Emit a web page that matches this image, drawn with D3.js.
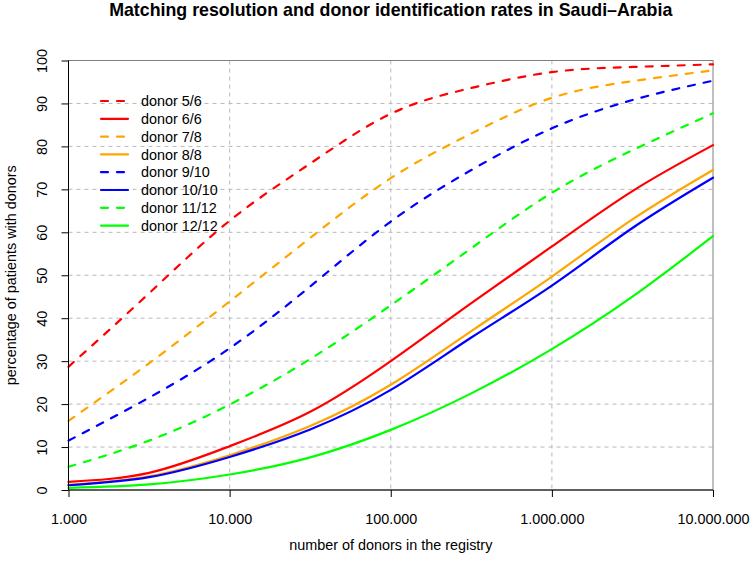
<!DOCTYPE html>
<html>
<head>
<meta charset="utf-8">
<script src="https://cdn.jsdelivr.net/npm/d3@7"></script>
<style>
  body { margin: 0; background: #fff; }
  svg text { font-family: "Liberation Sans", Arial, Helvetica, sans-serif; fill: #000; }
</style>
</head>
<body>
<svg id="chart"></svg>
<script>

var width = 750;
var height = 562;

// registry sizes (x) and identification rates (%)
var registrySizes = [1e3, 3.162e3, 1e4, 3.162e4, 1e5, 3.162e5, 1e6, 3.162e6, 1e7];

var donor56   = [28.7, 45.8, 62.7, 76.0, 87.6, 93.6, 97.3, 98.5, 99.1];
var donor66   = [1.9, 4.0, 10.2, 18.2, 30.0, 43.5, 56.7, 69.6, 80.3];
var donor78   = [16.1, 29.5, 43.9, 58.7, 72.6, 83.0, 91.3, 95.2, 97.7];
var donor88   = [1.2, 3.2, 8.1, 14.9, 24.5, 37.0, 49.7, 63.0, 74.5];
var donor910  = [11.5, 21.5, 33.0, 47.4, 62.5, 74.5, 84.2, 90.8, 95.3];
var donor1010 = [1.1, 3.0, 7.7, 14.1, 23.3, 35.5, 47.6, 61.0, 72.7];
var donor1112 = [5.4, 11.5, 19.9, 30.5, 43.0, 56.3, 69.2, 79.1, 87.7];
var donor1212 = [0.5, 1.3, 3.6, 7.6, 14.0, 22.5, 32.8, 45.0, 59.1];

var seriesNames = ["donor 5/6", "donor 6/6", "donor 7/8", "donor 8/8",
                   "donor 9/10", "donor 10/10", "donor 11/12", "donor 12/12"];
var seriesColors = ["#ff0000", "#ff0000", "#ffa500", "#ffa500",
                    "#0000ff", "#0000ff", "#00ff00", "#00ff00"];
var seriesDashed = [true, false, true, false, true, false, true, false];
var seriesValues = [donor56, donor66, donor78, donor88, donor910, donor1010, donor1112, donor1212];

var xTicks = [1e3, 1e4, 1e5, 1e6, 1e7];
var xTickLabels = ["1.000", "10.000", "100.000", "1.000.000", "10.000.000"];
var yTicks = [0, 10, 20, 30, 40, 50, 60, 70, 80, 90, 100];

var margin = {top: 60.5, right: 37, bottom: 72, left: 68.5};
var fontSize = "14.4px";

var svg = d3.select("#chart")
  .attr("width", width)
  .attr("height", height);

var x = d3.scaleLog()
  .domain([1e3, 1e7])
  .range([margin.left, width - margin.right]);

var y = d3.scaleLinear()
  .domain([0, 100])
  .range([height - margin.bottom, margin.top]);

// grid
svg.append("g")
  .selectAll("line")
  .data(yTicks.slice(1, -1))
  .enter().append("line")
  .attr("x1", margin.left).attr("x2", width - margin.right)
  .attr("y1", function(d) { return y(d); })
  .attr("y2", function(d) { return y(d); })
  .attr("stroke", "#b8b8b8")
  .attr("stroke-dasharray", "4,4");

svg.append("g")
  .selectAll("line")
  .data(xTicks.slice(1, -1))
  .enter().append("line")
  .attr("x1", function(d) { return x(d); })
  .attr("x2", function(d) { return x(d); })
  .attr("y1", margin.top).attr("y2", height - margin.bottom)
  .attr("stroke", "#b8b8b8")
  .attr("stroke-dasharray", "4,4");

// box
svg.append("rect")
  .attr("x", margin.left)
  .attr("y", margin.top)
  .attr("width", width - margin.right - margin.left)
  .attr("height", height - margin.bottom - margin.top)
  .attr("fill", "none")
  .attr("stroke", "#808080");

// curves
var line = d3.line()
  .x(function(d, i) { return x(registrySizes[i]); })
  .y(function(d) { return y(d); })
  .curve(d3.curveNatural);

seriesValues.forEach(function(vals, i) {
  svg.append("path")
    .datum(vals)
    .attr("d", line)
    .attr("fill", "none")
    .attr("stroke", seriesColors[i])
    .attr("stroke-width", 2.2)
    .attr("stroke-linecap", "round")
    .attr("stroke-dasharray", seriesDashed[i] ? "7,9" : null);
});

// x axis
var xAxis = d3.axisBottom(x)
  .tickValues(xTicks)
  .tickFormat(function(d, i) { return xTickLabels[i]; })
  .tickSize(7)
  .tickPadding(17);

var gx = svg.append("g")
  .attr("transform", "translate(0," + (height - margin.bottom) + ")")
  .call(xAxis);
gx.select(".domain").attr("stroke", "#000").attr("d", "M" + x(1e3) + ",0H" + x(1e7));
gx.selectAll("text").style("font-size", fontSize);

// y axis
var yAxis = d3.axisLeft(y)
  .tickValues(yTicks)
  .tickSize(7);

var gy = svg.append("g")
  .attr("transform", "translate(" + margin.left + ",0)")
  .call(yAxis);
gy.select(".domain").attr("d", "M0," + y(0) + "V" + y(100));
gy.selectAll(".tick text")
  .attr("x", 0).attr("dy", 0)
  .attr("text-anchor", "middle")
  .attr("transform", "translate(-22,0) rotate(-90)")
  .style("font-size", fontSize);

// legend
var legend = svg.append("g");
seriesNames.forEach(function(name, i) {
  var ly = 101 + i * 17.8;
  legend.append("line")
    .attr("x1", 101).attr("x2", 128)
    .attr("y1", ly).attr("y2", ly)
    .attr("stroke", seriesColors[i])
    .attr("stroke-width", 2.2)
    .attr("stroke-linecap", "round")
    .attr("stroke-dasharray", seriesDashed[i] ? "7,9" : null);
  legend.append("text")
    .attr("x", 141).attr("y", ly + 5.2)
    .style("font-size", fontSize)
    .text(name);
});

// titles
svg.append("text")
  .attr("x", (margin.left + width - margin.right) / 2)
  .attr("y", 15.5)
  .attr("text-anchor", "middle")
  .style("font-size", "17.8px")
  .style("font-weight", "bold")
  .text("Matching resolution and donor identification rates in Saudi\u2013Arabia");

svg.append("text")
  .attr("x", (margin.left + width - margin.right) / 2)
  .attr("y", 550)
  .attr("text-anchor", "middle")
  .style("font-size", fontSize)
  .text("number of donors in the registry");

svg.append("text")
  .attr("transform", "translate(15.5," + ((margin.top + height - margin.bottom) / 2) + ") rotate(-90)")
  .attr("text-anchor", "middle")
  .style("font-size", fontSize)
  .text("percentage of patients with donors");

</script>
</body>
</html>
